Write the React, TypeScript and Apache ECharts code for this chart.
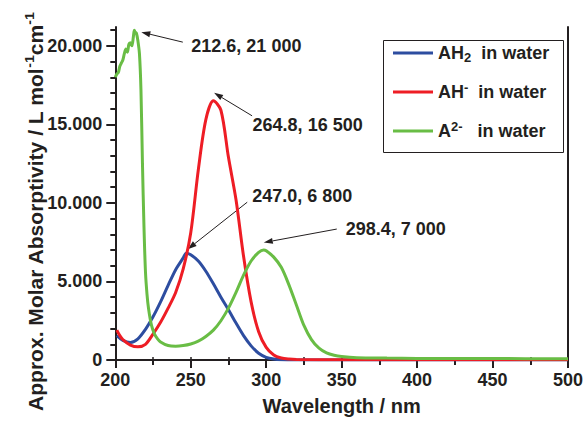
import React, { useEffect, useRef } from 'react';
import * as echarts from 'echarts';

const FONT = '"Liberation Sans", Arial, Helvetica, sans-serif';
const INK = '#231f20';

// AH2 in water
const wlAH2 = [201, 205, 210, 215, 220, 225, 230, 235, 240, 245, 247, 250, 255, 260, 265, 270, 275, 280, 285, 290, 295, 300, 305, 310, 320, 350, 400, 450, 500];
const absAH2 = [1550, 1250, 1120, 1350, 1950, 2750, 3700, 4750, 5750, 6500, 6800, 6700, 6300, 5650, 4850, 4000, 3200, 2350, 1550, 900, 430, 170, 60, 20, 5, 0, 0, 0, 0];

// AH- in water
const wlAH = [201, 203, 205, 210, 215, 220, 225, 230, 235, 240, 245, 250, 255, 260, 265, 270, 275, 280, 285, 290, 295, 300, 305, 310, 315, 320, 350, 400, 450, 500];
const absAH = [1900, 1550, 1300, 950, 840, 1000, 1650, 2400, 3300, 4300, 5800, 8100, 12100, 15300, 16500, 15900, 12900, 10200, 6600, 3700, 1800, 800, 320, 130, 60, 30, 20, 20, 20, 20];

// A2- in water
const wlA = [200, 201, 202, 203, 204, 205, 206, 207, 208, 209, 210, 211, 212, 212.6, 213, 214, 215, 216, 217, 218, 219, 220, 221, 222, 224, 226, 228, 230, 235, 240, 245, 250, 255, 260, 265, 270, 275, 280, 285, 290, 295, 298.4, 300, 305, 310, 315, 320, 325, 330, 335, 340, 345, 350, 360, 380, 400, 450, 500];
const absA = [18000, 18200, 18300, 18700, 18900, 19100, 19500, 19800, 19600, 20100, 20200, 20000, 20600, 21000, 20900, 20800, 20300, 19500, 17200, 12500, 8500, 5600, 4200, 3300, 2200, 1650, 1350, 1150, 920, 880, 920, 1020, 1200, 1500, 1900, 2500, 3300, 4300, 5400, 6300, 6850, 7000, 6950, 6550, 5900, 4800, 3500, 2200, 1300, 750, 450, 300, 220, 150, 120, 100, 90, 80];

const seriesNames = ['AH2', 'AH-', 'A2-'];
const legendLabels = ['{b|AH}{sub|2}{b|  in water}', '{b|AH}{sup|-}{b|  in water}', '{b|A}{sup|2-}{b|   in water}'];

const yMajorTicks = [0, 5000, 10000, 15000, 20000];
const yMinorTicks = [1000, 2000, 3000, 4000, 6000, 7000, 8000, 9000, 11000, 12000, 13000, 14000, 16000, 17000, 18000, 19000, 21000];

// Peak annotations
const peakWl = [212.6, 264.8, 247.0, 298.4];
const peakAbs = [21000, 16500, 6800, 7000];
const peakLabels = ['212.6, 21 000', '264.8, 16 500', '247.0, 6 800', '298.4, 7 000'];

// pixel offsets relative to each peak: arrow tip, arrow tail, text left-middle
const tipOff = [[7, 2], [1, -8], [1.5, -4], [0, -7.5]];
const tailOff = [[48.5, 12], [39, 15], [61, -51], [73, -21]];
const textOff = [[57, 16], [39.5, 24.5], [66, -57], [82, -21]];

const pairs = (xs: number[], ys: number[]) => xs.map((x, i) => [x, ys[i]]);

export default function App() {
  const ref = useRef<HTMLDivElement>(null);
  useEffect(() => {
    if (!ref.current) return;
    const chart = echarts.init(ref.current, null, { renderer: 'svg' });
    const lbl = { fontFamily: FONT, fontWeight: 'bold' as const, color: INK };
    const lineSeries = (name: string, data: number[][], color: string, z: number) => ({
      name,
      type: 'line',
      data,
      showSymbol: false,
      smooth: 0.3,
      z,
      lineStyle: { color, width: 3 },
      itemStyle: { color },
    });
    chart.setOption({
      animation: false,
      grid: { left: 115.3, right: 14.5, top: 27, bottom: 57 },
      legend: {
        orient: 'vertical',
        left: 393,
        top: 42,
        itemWidth: 40,
        itemHeight: 3,
        itemGap: 17,
        icon: 'rect',
        padding: 0,
        data: seriesNames,
        formatter: (n: string) => legendLabels[seriesNames.indexOf(n)],
        textStyle: {
          ...lbl,
          fontSize: 18,
          lineHeight: 22,
          rich: {
            b: { ...lbl, fontSize: 18, lineHeight: 22 },
            sub: { ...lbl, fontSize: 13, lineHeight: 13, verticalAlign: 'bottom' },
            sup: { ...lbl, fontSize: 13, lineHeight: 13, verticalAlign: 'top' },
          },
        },
      },
      xAxis: [
        {
          type: 'value', min: 200, max: 500, interval: 50, position: 'bottom',
          axisLine: { show: true, lineStyle: { color: INK, width: 2 } },
          axisTick: { show: true, length: 8, lineStyle: { color: INK, width: 2 } },
          minorTick: { show: true, splitNumber: 2, length: 5, lineStyle: { color: INK, width: 2 } },
          axisLabel: { ...lbl, fontSize: 18, margin: 11 },
          splitLine: { show: false },
          name: 'Wavelength / nm', nameLocation: 'middle', nameGap: 36,
          nameTextStyle: { ...lbl, fontSize: 20 },
        },
        {
          type: 'value', min: 200, max: 500, interval: 25, position: 'top',
          axisLine: { show: true, lineStyle: { color: INK, width: 2 } },
          axisTick: { show: true, length: 3, lineStyle: { color: INK, width: 1.5 } },
          axisLabel: { show: false },
          splitLine: { show: false },
        },
      ],
      yAxis: [
        {
          type: 'value', min: 0, max: 21200, position: 'left',
          axisLine: { show: true, lineStyle: { color: INK, width: 2 } },
          axisTick: { show: true, length: 9, customValues: yMajorTicks, lineStyle: { color: INK, width: 2 } },
          axisLabel: {
            ...lbl, fontSize: 18, margin: 13, customValues: yMajorTicks,
            formatter: (v: number) => (v === 0 ? '0' : (v / 1000).toFixed(3)),
          },
          splitLine: { show: false },
        },
        {
          type: 'value', min: 0, max: 21200, position: 'left',
          axisLine: { show: false },
          axisTick: { show: true, length: 5, customValues: yMinorTicks, lineStyle: { color: INK, width: 2 } },
          axisLabel: { show: false },
          splitLine: { show: false },
        },
        {
          type: 'value', min: 0, max: 21200, position: 'right',
          axisLine: { show: true, lineStyle: { color: INK, width: 2 } },
          axisTick: { show: false },
          axisLabel: { show: false },
          splitLine: { show: false },
        },
      ],
      series: [
        lineSeries(seriesNames[0], pairs(wlAH2, absAH2), '#2d4da0', 2),
        lineSeries(seriesNames[1], pairs(wlAH, absAH), '#ee1d25', 3),
        lineSeries(seriesNames[2], pairs(wlA, absA), '#69bd45', 4),
      ],
    });

    const graphics: any[] = [
      {
        type: 'rect', id: 'legendBox', z: 0, silent: true,
        shape: { x: 383.5, y: 40.5, width: 180, height: 112 },
        style: { fill: 'none', stroke: INK, lineWidth: 1 },
      },
      {
        type: 'text', id: 'yTitle', x: 36, y: 212, rotation: Math.PI / 2, scaleX: 1.08,
        style: {
          text: '{b|Approx. Molar Absorptivity / L mol}{sup|-1}{b|cm}{sup|-1}',
          align: 'center', verticalAlign: 'middle',
          rich: {
            b: { ...lbl, fill: INK, fontSize: 19.5, lineHeight: 26 },
            sup: { ...lbl, fill: INK, fontSize: 13, lineHeight: 13, verticalAlign: 'top' },
          },
        },
      },
    ];
    peakWl.forEach((w, i) => {
      const p = chart.convertToPixel({ xAxisIndex: 0, yAxisIndex: 0 }, [w, peakAbs[i]]) as number[];
      const tip = [p[0] + tipOff[i][0], p[1] + tipOff[i][1]];
      const tail = [p[0] + tailOff[i][0], p[1] + tailOff[i][1]];
      const dx = tip[0] - tail[0];
      const dy = tip[1] - tail[1];
      const len = Math.hypot(dx, dy);
      const ux = dx / len, uy = dy / len;
      const hl = 9, hw = 3;
      const base = [tip[0] - ux * hl, tip[1] - uy * hl];
      graphics.push({
        type: 'line', id: 'arrL' + i, silent: true,
        shape: { x1: tail[0], y1: tail[1], x2: base[0], y2: base[1] },
        style: { stroke: INK, lineWidth: 1 },
      });
      graphics.push({
        type: 'polygon', id: 'arrH' + i, silent: true,
        shape: { points: [tip, [base[0] - uy * hw, base[1] + ux * hw], [base[0] + uy * hw, base[1] - ux * hw]] },
        style: { fill: INK },
      });
      graphics.push({
        type: 'text', id: 'arrT' + i, silent: true,
        x: p[0] + textOff[i][0], y: p[1] + textOff[i][1],
        style: { text: peakLabels[i], fontFamily: FONT, fontWeight: 'bold', fontSize: 18, fill: INK, align: 'left', verticalAlign: 'middle' },
      });
    });
    chart.setOption({ graphic: graphics });
    return () => chart.dispose();
  }, []);
  return <div ref={ref} style={{ width: 586, height: 421, position: 'absolute', left: 0, top: 0, background: '#fff' }} />;
}
